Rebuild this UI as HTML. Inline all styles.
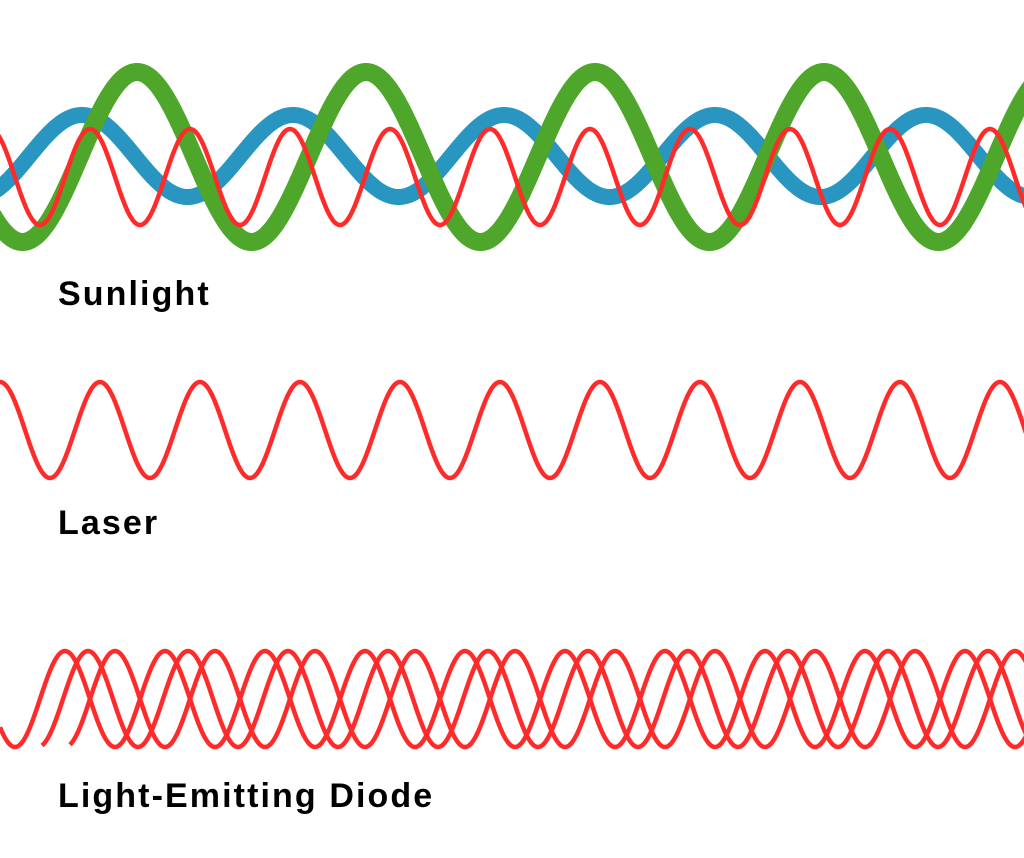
<!DOCTYPE html>
<html><head><meta charset="utf-8"><style>
html,body{margin:0;padding:0;background:#fff;}
body{width:1024px;height:858px;overflow:hidden;position:relative;}
svg{position:absolute;left:0;top:0;}
.t{position:absolute;left:58px;font-family:"Liberation Sans",sans-serif;font-weight:bold;font-size:34px;letter-spacing:2.1px;color:#000;line-height:1;}
</style></head><body>
<svg id="s" width="1024" height="858" viewBox="0 0 1024 858"></svg>
<div class="t" style="top:277px">Sunlight</div>
<div class="t" style="top:506px">Laser</div>
<div class="t" style="top:779px">Light-Emitting Diode</div>
<script>
function wave(c,A,P,xp,x0,x1,col,w){
  var d="";
  for(var x=x0;x<=x1;x+=1){
    var y=c-A*Math.cos(2*Math.PI*(x-xp)/P);
    d+=(x==x0?"M":"L")+x+" "+y.toFixed(2)+" ";
  }
  return '<path d="'+d+'" fill="none" stroke="'+col+'" stroke-width="'+w+'" stroke-linejoin="round"/>';
}
var R="#ff2b2b",h="";
h+=wave(156,41,211,82,-10,1034,"#2896c0",16);
h+=wave(157,85,229,137,-10,1034,"#4ea62a",18);
h+=wave(177,48,100,90,-10,1034,R,4.5);
h+=wave(430,48,100,0,-10,1034,R,4.5);
h+=wave(699,48,100,65,0,1034,R,4.5);
h+=wave(699,48,100,88,42,1034,R,4.5);
h+=wave(699,48,100,115,70,1034,R,4.5);
document.getElementById("s").innerHTML=h;
</script>
</body></html>
